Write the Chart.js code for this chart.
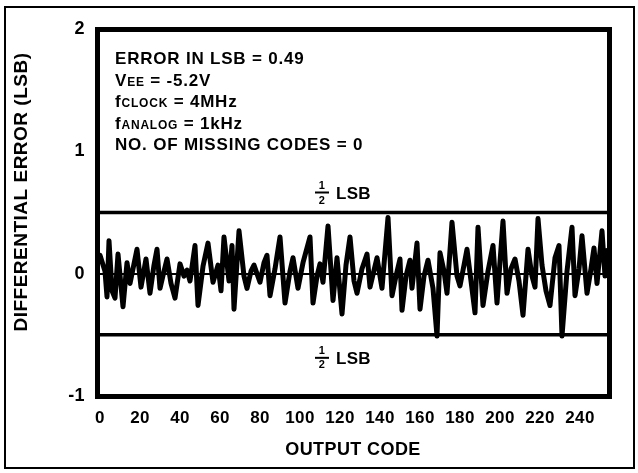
<!DOCTYPE html>
<html>
<head>
<meta charset="utf-8">
<script src="https://cdn.jsdelivr.net/npm/chart.js@4.4.1/dist/chart.umd.min.js"></script>
<style>
  html, body { margin: 0; padding: 0; background: #fff; }
  #wrap { position: relative; width: 638px; height: 473px; }
</style>
</head>
<body>
<div id="wrap"><canvas id="dnlChart" width="638" height="473"></canvas></div>
<script>
// output codes where the trace turns
const codes = [0, 2.5, 3.5, 4.5, 6, 7.5, 9, 11.5, 13.5, 15, 16.5, 18.5, 20.5, 23, 25, 27, 28.5, 30, 32, 33.5,
  35.5, 37.5, 40, 42, 43.5, 45, 47.5, 49, 51.5, 54, 56.5, 59, 60.5, 62, 64.5, 66, 67, 69.5, 72, 73.5,
  75.5, 77, 80, 82, 83.5, 85, 87.5, 90, 92.5, 95, 96.5, 99, 101.5, 105, 106.5, 108.5, 110, 111.5, 114, 116.5,
  118.5, 121, 123, 125, 127, 128.5, 131, 133.5, 135, 138.5, 141, 144, 146, 148, 150, 151, 153, 155, 156, 158.5,
  160, 162, 164, 166.5, 168.5, 170, 172, 173.5, 176, 178.5, 180, 182, 183.5, 185.5, 187.5, 189, 191.5, 194, 196.5, 198.5,
  201.5, 203.5, 205.5, 207.5, 209.5, 211.5, 214, 216, 217.5, 219, 221, 223, 225, 227.5, 229.5, 231, 233.5, 236, 237.5, 239.5,
  241, 243.5, 245.5, 247, 248.5, 251, 252.5, 253.5];
// differential error in LSB at those codes
const dnl = [0.15, 0.02, -0.19, 0.27, -0.14, -0.2, 0.16, -0.27, 0.09, -0.08, 0.04, 0.2, -0.11, 0.12, -0.16, 0.07, 0.2, -0.12, 0.02, 0.12,
  -0.08, -0.2, 0.08, -0.02, 0.03, -0.06, 0.23, -0.26, 0.06, 0.25, -0.07, 0.07, -0.14, 0.3, -0.06, 0.23, -0.29, 0.35, -0.02, -0.12,
  0.02, 0.07, -0.07, 0.09, 0.15, -0.18, 0.04, 0.3, -0.24, 0.02, 0.13, -0.12, 0.09, 0.3, -0.24, -0.02, 0.08, -0.07, 0.39, -0.22,
  0.13, -0.33, 0.07, 0.3, -0.06, -0.16, 0.04, 0.16, -0.11, 0.13, -0.12, 0.46, -0.18, -0.02, 0.12, -0.3, -0.02, 0.11, -0.12, 0.25,
  -0.29, -0.02, 0.11, -0.12, -0.51, 0.17, 0.02, -0.16, 0.42, -0.02, -0.1, 0.07, 0.2, -0.06, -0.32, 0.38, -0.26, 0.02, 0.23, -0.24,
  0.43, -0.16, 0.04, 0.12, -0.06, -0.34, 0.2, -0.02, -0.11, 0.45, 0.07, -0.14, -0.26, 0.13, 0.23, -0.51, 0.02, 0.38, -0.18, 0.04,
  0.31, -0.16, 0.04, 0.21, -0.08, 0.35, -0.02, 0.19];

const xTicks = [0, 20, 40, 60, 80, 100, 120, 140, 160, 180, 200, 220, 240];
const xMin = -1.5, xMax = 254.5;
const yMin = -1, yMax = 2;
const halfLsb = 0.5;

const notes = [
  [['ERROR IN LSB = 0.49', 17]],
  [['V', 17], ['EE', 12], [' = -5.2V', 17]],
  [['f', 17], ['CLOCK', 12], [' = 4MHz', 17]],
  [['f', 17], ['ANALOG', 12], [' = 1kHz', 17]],
  [['NO. OF MISSING CODES = 0', 17]]
];

const FONT = '"Liberation Sans", Arial, sans-serif';

function runs(ctx, x, y, parts) {
  parts.forEach(([t, size]) => {
    ctx.font = 'bold ' + size + 'px ' + FONT;
    ctx.fillText(t, x, y);
    x += ctx.measureText(t).width;
  });
}

function halfLabel(ctx, x, base, frac) {
  ctx.font = 'bold 11px ' + FONT;
  ctx.textAlign = 'center';
  ctx.fillText('1', x, base + frac[0]);
  ctx.fillText('2', x, base + frac[2]);
  ctx.fillRect(x - 7, base + frac[1] - 1, 14, 2);
  ctx.textAlign = 'left';
  ctx.font = 'bold 17px ' + FONT;
  ctx.fillText('LSB', x + 14, base + frac[3]);
}

const decor = {
  id: 'decor',
  beforeDraw(chart) {
    chart.ctx.letterSpacing = '0.4px';
  },
  afterDraw(chart) {
    const {ctx, chartArea: a, scales: {y}} = chart;
    ctx.save();
    ctx.strokeStyle = '#000';
    ctx.fillStyle = '#000';
    // plot frame
    ctx.lineWidth = 5;
    ctx.strokeRect(a.left + 0.5, a.top + 0.5, a.right - a.left, a.bottom - a.top);
    // outer frame
    ctx.lineWidth = 2;
    ctx.strokeRect(5, 7, 629, 461);
    // y axis title (sits a bit above centre in the original)
    ctx.save();
    ctx.letterSpacing = '0.5px';
    ctx.font = 'bold 19px ' + FONT;
    ctx.translate(22, 192);
    ctx.rotate(-Math.PI / 2);
    ctx.textAlign = 'center';
    ctx.textBaseline = 'middle';
    ctx.fillText('DIFFERENTIAL ERROR (LSB)', 0, 0);
    ctx.restore();
    // notes
    ctx.letterSpacing = '0.8px';
    ctx.textBaseline = 'alphabetic';
    ctx.textAlign = 'left';
    notes.forEach((parts, i) => runs(ctx, a.left + 18, 64 + i * 21.5, parts));
    ctx.letterSpacing = '0.3px';
    const up = y.getPixelForValue(halfLsb);
    const dn = y.getPixelForValue(-halfLsb);
    halfLabel(ctx, 322, up, [-24, -20, -9, -14]);
    halfLabel(ctx, 322, dn, [19, 23, 33, 29]);
    ctx.restore();
  }
};

new Chart(document.getElementById('dnlChart'), {
  type: 'line',
  data: {
    datasets: [{
      data: codes.map((c, i) => ({x: c, y: dnl[i]})),
      borderColor: '#000',
      borderWidth: 5,
      borderJoinStyle: 'round',
      borderCapStyle: 'round',
      pointRadius: 0,
      tension: 0
    }, {
      data: [{x: xMin, y: halfLsb}, {x: xMax, y: halfLsb}],
      borderColor: '#000',
      borderWidth: 3.5,
      pointRadius: 0
    }, {
      data: [{x: xMin, y: -halfLsb}, {x: xMax, y: -halfLsb}],
      borderColor: '#000',
      borderWidth: 3.5,
      pointRadius: 0
    }]
  },
  options: {
    responsive: false,
    animation: false,
    layout: {padding: {top: 29, right: 29, left: 0, bottom: 0}},
    plugins: {legend: {display: false}, tooltip: {enabled: false}},
    scales: {
      x: {
        type: 'linear',
        min: xMin,
        max: xMax,
        afterBuildTicks: (s) => { s.ticks = xTicks.map(v => ({value: v})); },
        afterFit: (s) => { s.height = 77; },
        grid: {display: false, drawTicks: false},
        border: {display: false},
        ticks: {color: '#000', padding: 12, maxRotation: 0, autoSkip: false,
          font: {family: FONT, size: 17, weight: 'bold'}},
        title: {display: true, text: 'OUTPUT CODE', color: '#000', padding: {top: 0, bottom: 12},
          font: {family: FONT, size: 18, weight: 'bold'}}
      },
      y: {
        min: yMin,
        max: yMax,
        afterFit: (s) => { s.width = 97; },
        grid: {
          drawTicks: false,
          lineWidth: 2,
          color: (c) => (c.tick && c.tick.value === 0 ? '#000' : 'rgba(0,0,0,0)')
        },
        border: {display: false},
        ticks: {stepSize: 1, color: '#000', padding: 12,
          font: {family: FONT, size: 18, weight: 'bold'}},
        title: {display: false}
      }
    }
  },
  plugins: [decor]
});
</script>
</body>
</html>
